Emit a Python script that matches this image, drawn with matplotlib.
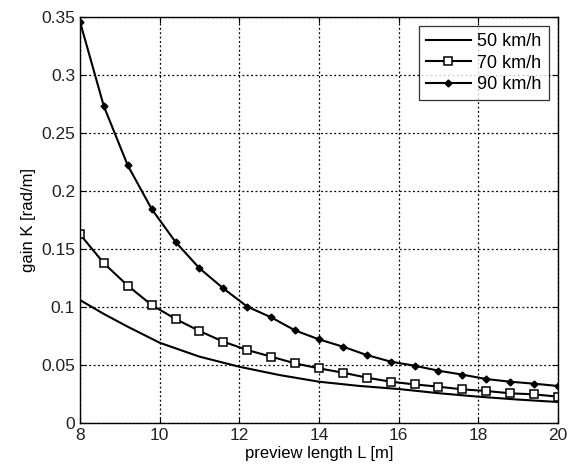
import numpy as np
import matplotlib.pyplot as plt

plt.rcParams['font.family'] = ['Liberation Sans', 'DejaVu Sans']

# preview length samples
L_marked = [8.0, 8.6, 9.2, 9.8, 10.4, 11.0, 11.6, 12.2, 12.8, 13.4, 14.0,
            14.6, 15.2, 15.8, 16.4, 17.0, 17.6, 18.2, 18.8, 19.4, 20.0]
L_50 = [8.0, 8.6, 9.2, 10.0, 11.0, 12.0, 13.0, 14.0, 15.0, 16.0, 17.0, 18.0, 19.0, 20.0]

K_50 = [0.106, 0.094, 0.083, 0.0692, 0.0572, 0.0485, 0.0414, 0.0356,
        0.032, 0.0293, 0.0257, 0.0227, 0.0202, 0.0181]
K_70 = [0.1627, 0.1377, 0.1184, 0.1017, 0.0897, 0.0793, 0.0701, 0.0629,
        0.0572, 0.0514, 0.0471, 0.0434, 0.0391, 0.0356, 0.0333, 0.0313,
        0.029, 0.0276, 0.0256, 0.0247, 0.0227]
K_90 = [0.346, 0.273, 0.222, 0.1845, 0.156, 0.1334, 0.116, 0.1003,
        0.0911, 0.0798, 0.0721, 0.0658, 0.0586, 0.0529, 0.0494, 0.0451,
        0.0417, 0.0379, 0.0356, 0.0339, 0.0319]

labels = ['50 km/h', '70 km/h', '90 km/h']

fig = plt.figure(figsize=(5.77, 4.72), dpi=100)
ax = fig.add_axes([0.1386, 0.1038, 0.8284, 0.8602])

ax.plot(L_50, K_50, color='black', lw=1.5, label=labels[0])
ax.plot(L_marked, K_70, color='black', lw=1.5, marker='s', ms=6,
        mfc='white', mec='black', mew=1.1, label=labels[1])
ax.plot(L_marked, K_90, color='black', lw=1.5, marker='D', ms=3.5,
        mfc='black', mec='black', label=labels[2])

ax.set_xlim(8, 20)
ax.set_ylim(0, 0.35)
ax.set_xticks(np.arange(8, 21, 2))
ax.set_yticks(np.arange(0, 0.351, 0.05))
ax.set_yticklabels(['0', '0.05', '0.1', '0.15', '0.2', '0.25', '0.3', '0.35'])
ax.grid(True, color='black', linestyle=(0, (1.5, 2)), linewidth=0.9)
ax.tick_params(direction='in', top=True, right=True, labelsize=12.5, length=4,
               colors='black', labelcolor='#222222')
for s in ax.spines.values():
    s.set_linewidth(1.0)

ax.set_xlabel('preview length L [m]', fontsize=12, labelpad=2)
ax.set_ylabel('gain K [rad/m]', fontsize=12, labelpad=4)

leg = ax.legend(loc='upper right', fontsize=13, frameon=True, fancybox=False,
                edgecolor='black', borderaxespad=0.5, handlelength=2.5,
                handletextpad=0.35, labelspacing=0.25, borderpad=0.4)
leg.get_frame().set_linewidth(0.9)

fig.savefig('out.png', dpi=100)
